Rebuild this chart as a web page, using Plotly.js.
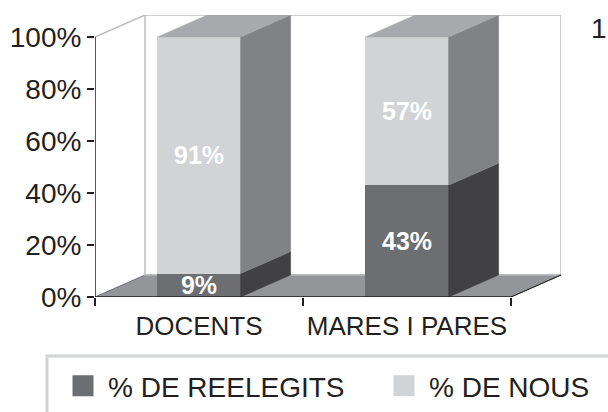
<!DOCTYPE html>
<html><head><meta charset="utf-8">
<script src="https://cdn.plot.ly/plotly-3.0.1.min.js"></script>
<style>html,body{margin:0;padding:0;background:#fff}</style>
</head><body><div id="chart" style="width:608px;height:412px"></div>
<script>
// ---- data ----
const categories = ['DOCENTS', 'MARES I PARES'];
const reelegits = [9, 43];
const nous = [91, 57];
const seriesNames = ['% DE REELEGITS', '% DE NOUS'];
const yTickVals = [0, 20, 40, 60, 80, 100];
const yTickText = ['0%', '20%', '40%', '60%', '80%', '100%'];
const extraText = '1';

// ---- geometry / style ----
const W = 608, H = 412, ML = 95, MR = 47, MT = 15, MB = 115;
const plotW = W - ML - MR, plotH = H - MT - MB;
const pxPerCat = 208, pxPerPct = 2.6;
const dX = 50 / pxPerCat, dY = 22 / pxPerPct;
const xMin = -0.5, xMax = xMin + plotW / pxPerCat;
const xEnd = categories.length - 0.5;
const yMax = plotH / pxPerPct;
const half = 0.2;
const FONT = 'Liberation Sans, Arial, Helvetica, sans-serif';
const frontCol = ['#6d6e71', '#d1d3d4'];
const sideCol = ['#414042', '#808285'];
const topCol = '#a7a9ac';
const floorCol = '#939598';
const wallCol = '#bcbec0';
const inkCol = '#231f20';

const xs = categories.map((c, i) => i);
const series = [reelegits, nous];
const traces = [];

// front faces as bars
series.forEach((vals, s) => {
  traces.push({
    type: 'bar', x: xs, y: vals, width: 2 * half,
    marker: {color: frontCol[s], line: {width: 0}},
    text: vals.map(v => v + '%'), textposition: 'inside', insidetextanchor: 'middle',
    constraintext: 'none', cliponaxis: false,
    textfont: {family: FONT, size: 25, color: '#ffffff', weight: 'bold'},
    showlegend: false, hoverinfo: 'skip', name: seriesNames[s]
  });
});

// side and top faces
xs.forEach((x, i) => {
  let base = 0;
  series.forEach((vals, s) => {
    const b0 = base, b1 = base + vals[i];
    const xr = x + half;
    traces.push({
      type: 'scatter', mode: 'lines', fill: 'toself', fillcolor: sideCol[s],
      x: [xr, xr + dX, xr + dX, xr, xr], y: [b0, b0 + dY, b1 + dY, b1, b0],
      line: {width: 0.5, color: sideCol[s]}, showlegend: false, hoverinfo: 'skip'
    });
    base = b1;
  });
  traces.push({
    type: 'scatter', mode: 'lines', fill: 'toself', fillcolor: topCol,
    x: [x - half, x + half, x + half + dX, x - half + dX, x - half],
    y: [base, base, base + dY, base + dY, base],
    line: {width: 0.5, color: topCol}, showlegend: false, hoverinfo: 'skip'
  });
});

// legend proxies (one legend per entry, placed like the original)
const legendIds = ['legend', 'legend2'];
series.forEach((vals, s) => {
  traces.push({
    type: 'scatter', mode: 'markers', x: [null], y: [null], name: seriesNames[s],
    legend: legendIds[s],
    marker: {symbol: 'square', size: 16, color: frontCol[s], line: {color: frontCol[s], width: 5}},
    showlegend: true
  });
});

const px2paperX = p => (p - ML) / plotW;
const px2paperY = p => (H - MB - p) / plotH;

const shapes = [
  {type: 'path', layer: 'below', xref: 'x', yref: 'y',
   path: `M${xMin},0 L${xEnd},0 L${xEnd + dX},${dY} L${xMin + dX},${dY} Z`,
   fillcolor: floorCol, line: {color: '#6d6e71', width: 1}},
  {type: 'rect', layer: 'below', xref: 'x', yref: 'y',
   x0: xMin + dX, x1: xEnd + dX, y0: dY, y1: 100 + dY,
   line: {color: wallCol, width: 1.5}},
  {type: 'line', layer: 'below', xref: 'x', yref: 'y',
   x0: xMin, y0: 100, x1: xMin + dX, y1: 100 + dY, line: {color: wallCol, width: 1.5}},
  {type: 'line', layer: 'above', xref: 'x', yref: 'y',
   x0: xEnd, y0: 0, x1: xEnd + dX, y1: dY, line: {color: inkCol, width: 1}},
  {type: 'line', layer: 'above', xref: 'x', yref: 'y',
   x0: xMin, y0: 0, x1: xMin, y1: 100, line: {color: inkCol, width: 1.5}},
  {type: 'line', layer: 'above', xref: 'x', yref: 'y',
   x0: xMin, y0: 0, x1: xEnd, y1: 0, line: {color: inkCol, width: 1.5}},
  {type: 'rect', layer: 'above', xref: 'paper', yref: 'paper',
   x0: px2paperX(47), x1: px2paperX(700), y0: px2paperY(356), y1: px2paperY(440),
   line: {color: '#d1d3d4', width: 3}}
];

const legendBase = {
  orientation: 'h', xref: 'paper', yref: 'paper', xanchor: 'left', yanchor: 'middle',
  font: {family: FONT, size: 28, color: inkCol}, itemwidth: 40,
  bgcolor: 'rgba(0,0,0,0)', borderwidth: 0, itemclick: false, itemdoubleclick: false
};

const layout = {
  width: W, height: H,
  margin: {l: ML, r: MR, t: MT, b: MB, autoexpand: false},
  paper_bgcolor: '#ffffff', plot_bgcolor: 'rgba(0,0,0,0)',
  barmode: 'stack', bargap: 0,
  font: {family: FONT, color: inkCol, size: 24},
  xaxis: {
    range: [xMin, xMax], showgrid: false, zeroline: false, showline: false,
    tickmode: 'array', tickvals: xs, ticktext: categories,
    ticks: 'outside', ticklen: 6, tickcolor: 'rgba(0,0,0,0)',
    tickfont: {family: FONT, size: 26, color: inkCol},
    minor: {tickmode: 'linear', tick0: -0.5, dtick: 1, ticks: 'outside', ticklen: 8, tickwidth: 1.5, tickcolor: inkCol, showgrid: false},
    fixedrange: true
  },
  yaxis: {
    range: [0, yMax], showgrid: false, zeroline: false, showline: false,
    tickmode: 'array', tickvals: yTickVals, ticktext: yTickText,
    ticks: 'outside', ticklen: 7, tickwidth: 1.5, tickcolor: inkCol,
    tickfont: {family: FONT, size: 28, color: inkCol},
    fixedrange: true
  },
  showlegend: true,
  legend: Object.assign({}, legendBase, {x: px2paperX(58), y: px2paperY(386)}),
  legend2: Object.assign({}, legendBase, {x: px2paperX(379), y: px2paperY(386)}),
  shapes: shapes,
  annotations: [{
    xref: 'paper', yref: 'paper', x: px2paperX(589), y: px2paperY(28),
    xanchor: 'left', yanchor: 'middle', text: extraText, showarrow: false,
    font: {family: FONT, size: 28, color: inkCol}
  }]
};

Plotly.newPlot('chart', traces, layout, {displayModeBar: false, staticPlot: true});
</script>
</body></html>
